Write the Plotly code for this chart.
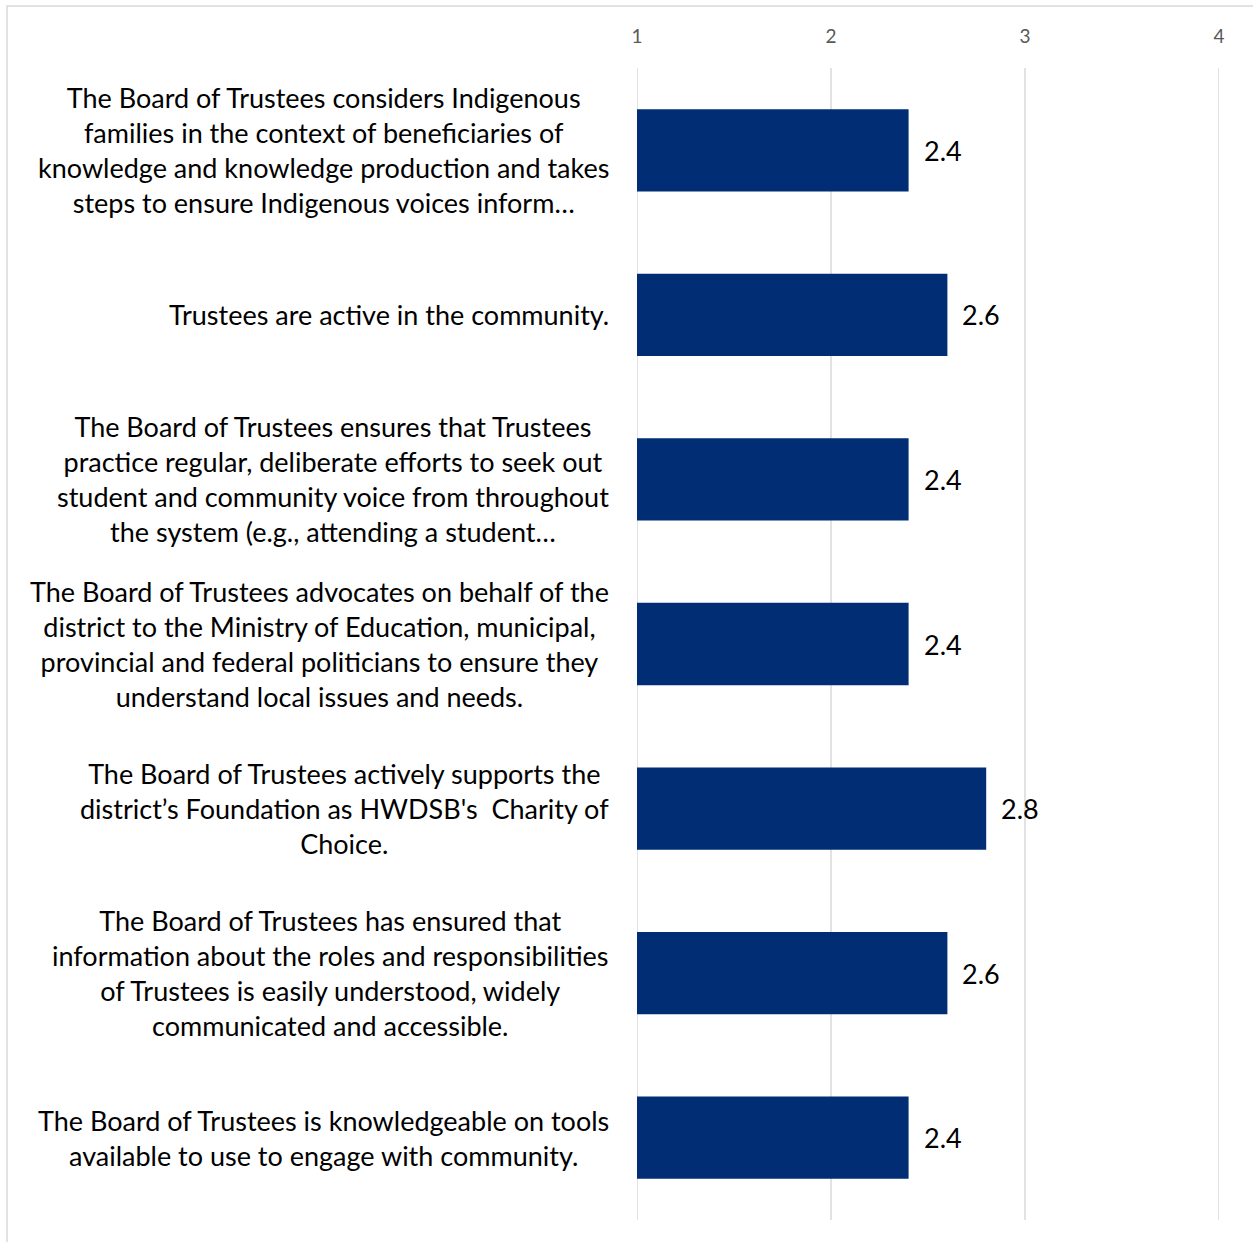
import plotly.graph_objects as go

# Survey statements (top to bottom) and their mean ratings
statements = [
    "The Board of Trustees considers Indigenous<br>families in the context of beneficiaries of<br>knowledge and knowledge production and takes<br>steps to ensure Indigenous voices inform…",
    "Trustees are active in the community.",
    "The Board of Trustees ensures that Trustees<br>practice regular, deliberate efforts to seek out<br>student and community voice from throughout<br>the system (e.g., attending a student…",
    "The Board of Trustees advocates on behalf of the<br>district to the Ministry of Education, municipal,<br>provincial and federal politicians to ensure they<br>understand local issues and needs.",
    "The Board of Trustees actively supports the<br>district’s Foundation as HWDSB's  Charity of<br>Choice.",
    "The Board of Trustees has ensured that<br>information about the roles and responsibilities<br>of Trustees is easily understood, widely<br>communicated and accessible.",
    "The Board of Trustees is knowledgeable on tools<br>available to use to engage with community.",
]
ratings = [2.4, 2.6, 2.4, 2.4, 2.8, 2.6, 2.4]
x_ticks = [1, 2, 3, 4]

BAR_COLOR = "#002D73"
GRID_COLOR = "#D9D9D9"
FONT = "Lato"
AXIS_MIN, AXIS_MAX = 1, 4

# bars start at the scale minimum, so their lengths are rating - minimum
fig = go.Figure(
    go.Bar(
        x=[r - AXIS_MIN for r in ratings],
        y=statements,
        base=AXIS_MIN,
        orientation="h",
        marker=dict(color=BAR_COLOR, line=dict(width=0)),
        hoverinfo="skip",
    )
)

annotations = []
# statement labels: right-aligned block, centred lines
for s in statements:
    annotations.append(dict(
        x=0, xref="paper", y=s, yref="y",
        text=s, showarrow=False, xanchor="right", yanchor="middle",
        align="center", xshift=-26,
        font=dict(family=FONT, size=27, color="#000000"),
    ))
# value labels at bar ends
for s, r in zip(statements, ratings):
    annotations.append(dict(
        x=r, xref="x", y=s, yref="y",
        text=f"{r:.1f}", showarrow=False, xanchor="left", yanchor="middle",
        xshift=13,
        font=dict(family=FONT, size=27, color="#000000"),
    ))

# vertical gridlines at every tick (including both ends of the scale)
shapes = [dict(
    type="line", xref="x", yref="paper",
    x0=t, x1=t, y0=0, y1=1,
    line=dict(color=GRID_COLOR, width=1.5), layer="below",
) for t in x_ticks]
# light frame around the whole chart
shapes.append(dict(
    type="rect", xref="paper", yref="paper",
    x0=-1.0825, x1=1.08, y0=-0.03, y1=1.0538,
    line=dict(color=GRID_COLOR, width=1.5), fillcolor="rgba(0,0,0,0)",
    layer="below",
))

fig.update_layout(
    width=1253,
    height=1242,
    margin=dict(l=637, r=34, t=68, b=22),
    paper_bgcolor="white",
    plot_bgcolor="white",
    showlegend=False,
    bargap=0.5,
    annotations=annotations,
    shapes=shapes,
)
fig.update_xaxes(
    range=[AXIS_MIN, AXIS_MAX],
    side="top",
    tickvals=x_ticks,
    ticktext=[str(t) for t in x_ticks],
    showgrid=False,
    zeroline=False,
    showline=False,
    ticks="outside",
    ticklen=16,
    tickcolor="rgba(0,0,0,0)",
    tickfont=dict(family=FONT, size=19, color="#595959"),
)
fig.update_yaxes(
    categoryorder="array",
    categoryarray=statements,
    autorange="reversed",
    showticklabels=False,
    showgrid=False,
    zeroline=False,
    showline=False,
)

fig.write_html("out.html")
